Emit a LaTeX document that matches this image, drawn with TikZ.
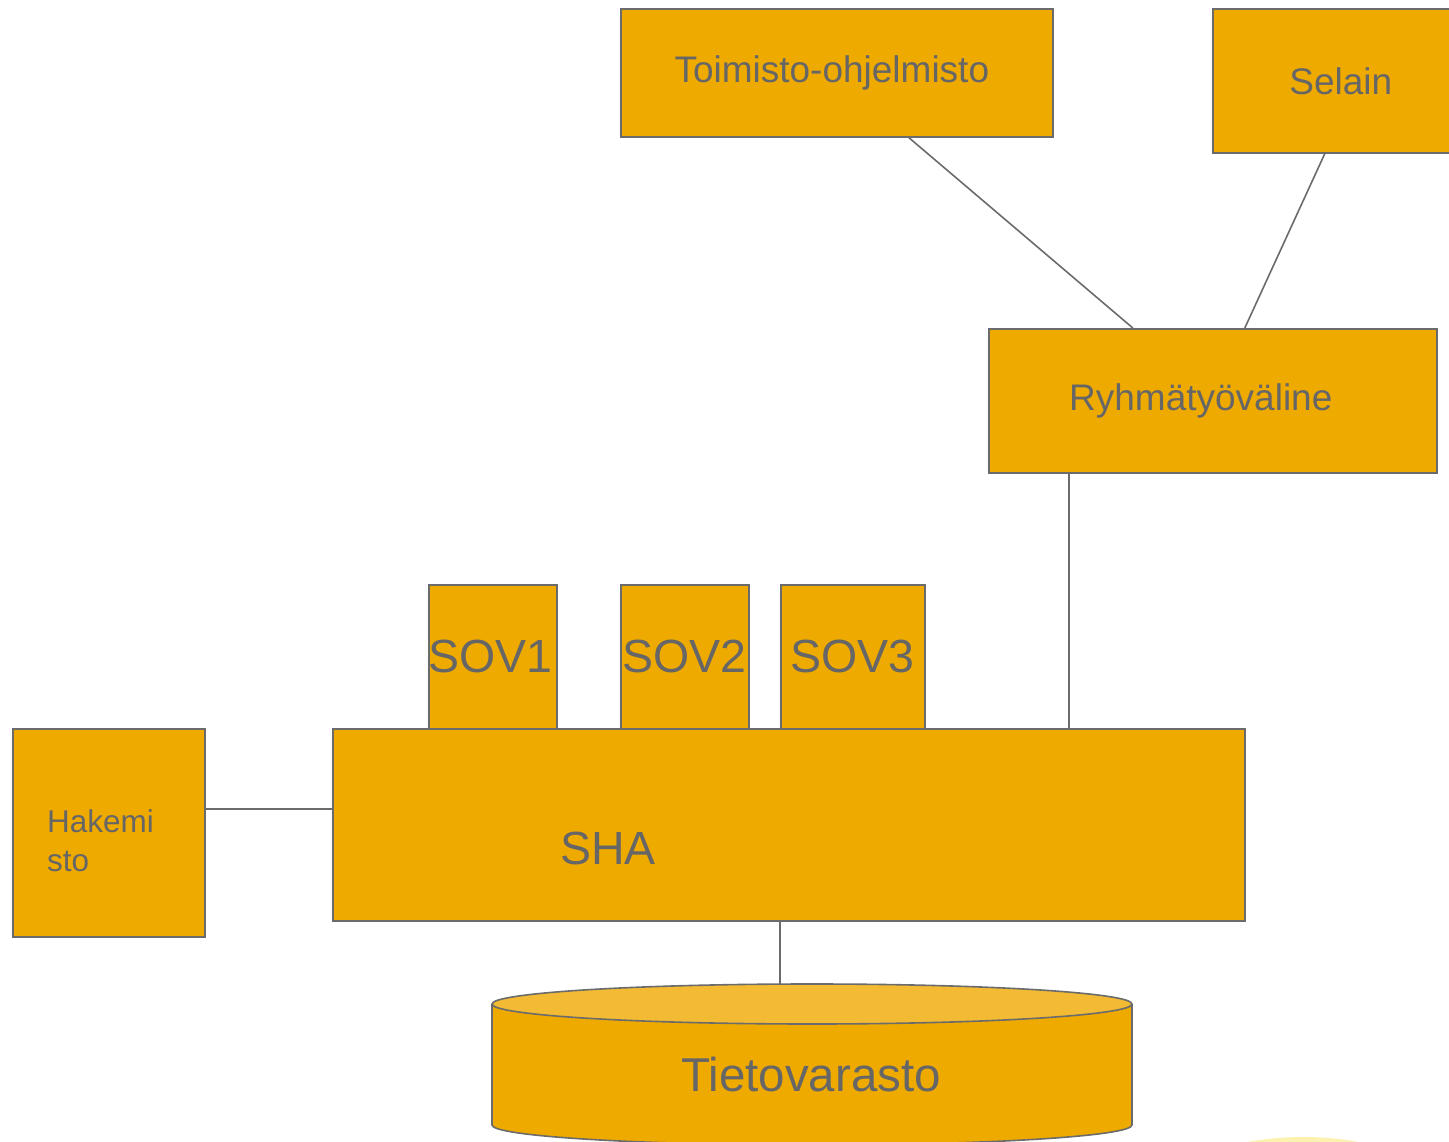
\documentclass[tikz,border=0pt]{standalone}
\usepackage{fontspec}
\setmainfont{Liberation Sans}
\definecolor{boxfill}{HTML}{EFAA00}
\definecolor{topfill}{HTML}{F2BB33}
\definecolor{edgecol}{HTML}{6B6B6B}
\definecolor{txtcol}{HTML}{666666}
\definecolor{glow}{HTML}{FDF1B0}
\begin{document}
\begin{tikzpicture}[x=1pt,y=-1pt,
  box/.style={draw=edgecol, fill=boxfill, line width=1.6pt, text=txtcol, inner sep=0pt, anchor=north west},
  lbl/.style={text=txtcol, inner sep=0pt},
  link/.style={draw=edgecol, line width=1.6pt},
  big/.style={font=\fontsize{37}{44}\selectfont},
  huge/.style={font=\fontsize{46.5}{54}\selectfont}]
\useasboundingbox (0,0) rectangle (1449,1142);
\clip (0,0) rectangle (1449,1142);
% faint glow
\fill[glow] (1303,1167) ellipse [x radius=100, y radius=30];
% boxes
\node[box, big, minimum width=432pt, minimum height=128pt] (toim) at (620,8) {Toimisto-ohjelmisto\hspace*{10pt}};
\node[box, big, minimum width=256pt, minimum height=144pt] (sel) at (1212,8) {Selain};
\node[box, big, minimum width=448pt, minimum height=144pt] (ryh) at (988,328) {Ryhmätyöväline\hspace*{24pt}};
\node[box, huge, minimum width=128pt, minimum height=144pt] (sov1) at (428,584) {\hspace*{-4pt}SOV1};
\node[box, huge, minimum width=128pt, minimum height=144pt] (sov2) at (620,584) {SOV2};
\node[box, huge, minimum width=144pt, minimum height=144pt] (sov3) at (780,584) {SOV3};
\node[box, minimum width=912pt, minimum height=192pt] (sha) at (332,728) {};
\node[lbl, huge] (shat) at (608,848) {SHA};
\node[box, minimum width=192pt, minimum height=208pt] (hak) at (12,728) {};
\node[lbl, anchor=west, align=left, font=\fontsize{31.5}{39}\selectfont] (hakt) at (47,841) {Hakemi\\sto};
% cylinder
\path[fill=boxfill, draw=edgecol, line width=1.6pt] (492,1004) -- (492,1125) arc[start angle=180, end angle=0, x radius=320, y radius=20] -- (1132,1004);
\path[fill=topfill, draw=edgecol, line width=1.6pt] (812,1004) ellipse [x radius=320, y radius=20];
\node[lbl, font=\fontsize{47.5}{56}\selectfont] (tv) at (811,1075) {Tietovarasto};
\coordinate (tvtop) at (780,984);
% connectors
\draw[link] ([xshift=72pt]toim.south) -- ([xshift=-80pt]ryh.north);
\draw[link] ([xshift=-16pt]sel.south) -- ([xshift=32pt]ryh.north);
\draw[link] ([xshift=-144pt]ryh.south) -- ([xshift=-144pt]ryh.south |- sha.north);
\draw[link] ([yshift=24pt]hak.east) -- ([yshift=24pt]hak.east -| sha.west);
\draw[link] (sha.south -| tvtop) -- (tvtop);
\end{tikzpicture}
\end{document}
